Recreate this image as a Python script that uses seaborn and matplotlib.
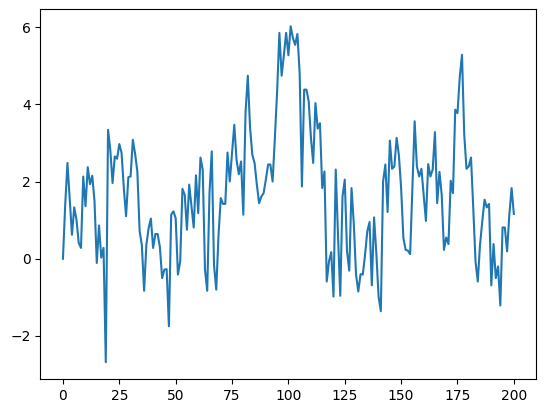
import numpy as np
import pandas as pd
import matplotlib
matplotlib.use("Agg")
import matplotlib.pyplot as plt
import seaborn as sns

# values, one per step 0..200
values = [
    0.00, 1.40, 2.48, 1.55, 0.62, 1.33, 1.01, 0.41, 0.28, 2.13,
    1.36, 2.37, 1.93, 2.15, 1.49, -0.11, 0.86, 0.03, 0.28, -2.68,
    3.34, 2.82, 1.96, 2.65, 2.59, 2.97, 2.74, 1.83, 1.10, 2.11,
    2.13, 3.08, 2.72, 2.26, 0.72, 0.35, -0.83, 0.36, 0.79, 1.04,
    0.28, 0.64, 0.64, 0.30, -0.50, -0.28, -0.27, -1.75, 1.14, 1.23,
    1.05, -0.41, -0.07, 1.81, 1.66, 0.75, 1.92, 1.36, 0.81, 2.16,
    1.18, 2.62, 2.31, -0.28, -0.83, 1.70, 2.78, -0.16, -0.80, 0.60,
    1.57, 1.42, 1.42, 2.75, 2.00, 2.72, 3.47, 2.56, 2.19, 2.52,
    1.14, 3.80, 4.74, 3.39, 2.69, 2.48, 1.92, 1.44, 1.61, 1.70,
    2.05, 2.44, 2.44, 2.00, 3.13, 4.34, 5.85, 4.74, 5.28, 5.85,
    5.27, 6.02, 5.72, 5.54, 5.82, 4.80, 1.87, 4.38, 4.38, 4.08,
    3.13, 2.48, 4.03, 3.37, 3.51, 1.83, 2.26, -0.59, -0.07, 0.17,
    -0.98, 2.31, 0.62, -0.96, 1.61, 2.05, 0.19, -0.31, 1.83, 0.92,
    -0.41, -0.85, -0.40, -0.41, 0.10, 0.71, 0.95, -0.69, 1.07, 0.15,
    -0.98, -1.36, 2.00, 2.44, 1.21, 3.06, 2.33, 2.39, 3.13, 2.69,
    1.83, 0.54, 0.23, 0.21, 0.12, 1.83, 3.56, 2.39, 2.13, 2.33,
    1.66, 0.98, 2.45, 2.13, 2.31, 3.28, 1.44, 2.25, 1.66, 0.23,
    0.55, 0.38, 2.02, 1.70, 3.86, 3.77, 4.70, 5.28, 3.21, 2.33,
    2.39, 2.62, 1.31, -0.07, -0.59, 0.36, 0.97, 1.53, 1.33, 1.42,
    -0.69, 0.38, -0.50, -0.20, -1.21, 0.81, 0.81, 0.19, 1.14, 1.83,
    1.16,
]
steps = list(range(len(values)))

df = pd.DataFrame({"step": steps, "value": values})

fig = plt.figure(figsize=(5.46, 4.13), dpi=100)
ax = fig.add_axes([0.074, 0.0823, 0.9084, 0.8947])
sns.lineplot(data=df, x="step", y="value", ax=ax)
ax.set_xlabel("")
ax.set_ylabel("")

fig.savefig("out.png", dpi=100)
plt.close(fig)
